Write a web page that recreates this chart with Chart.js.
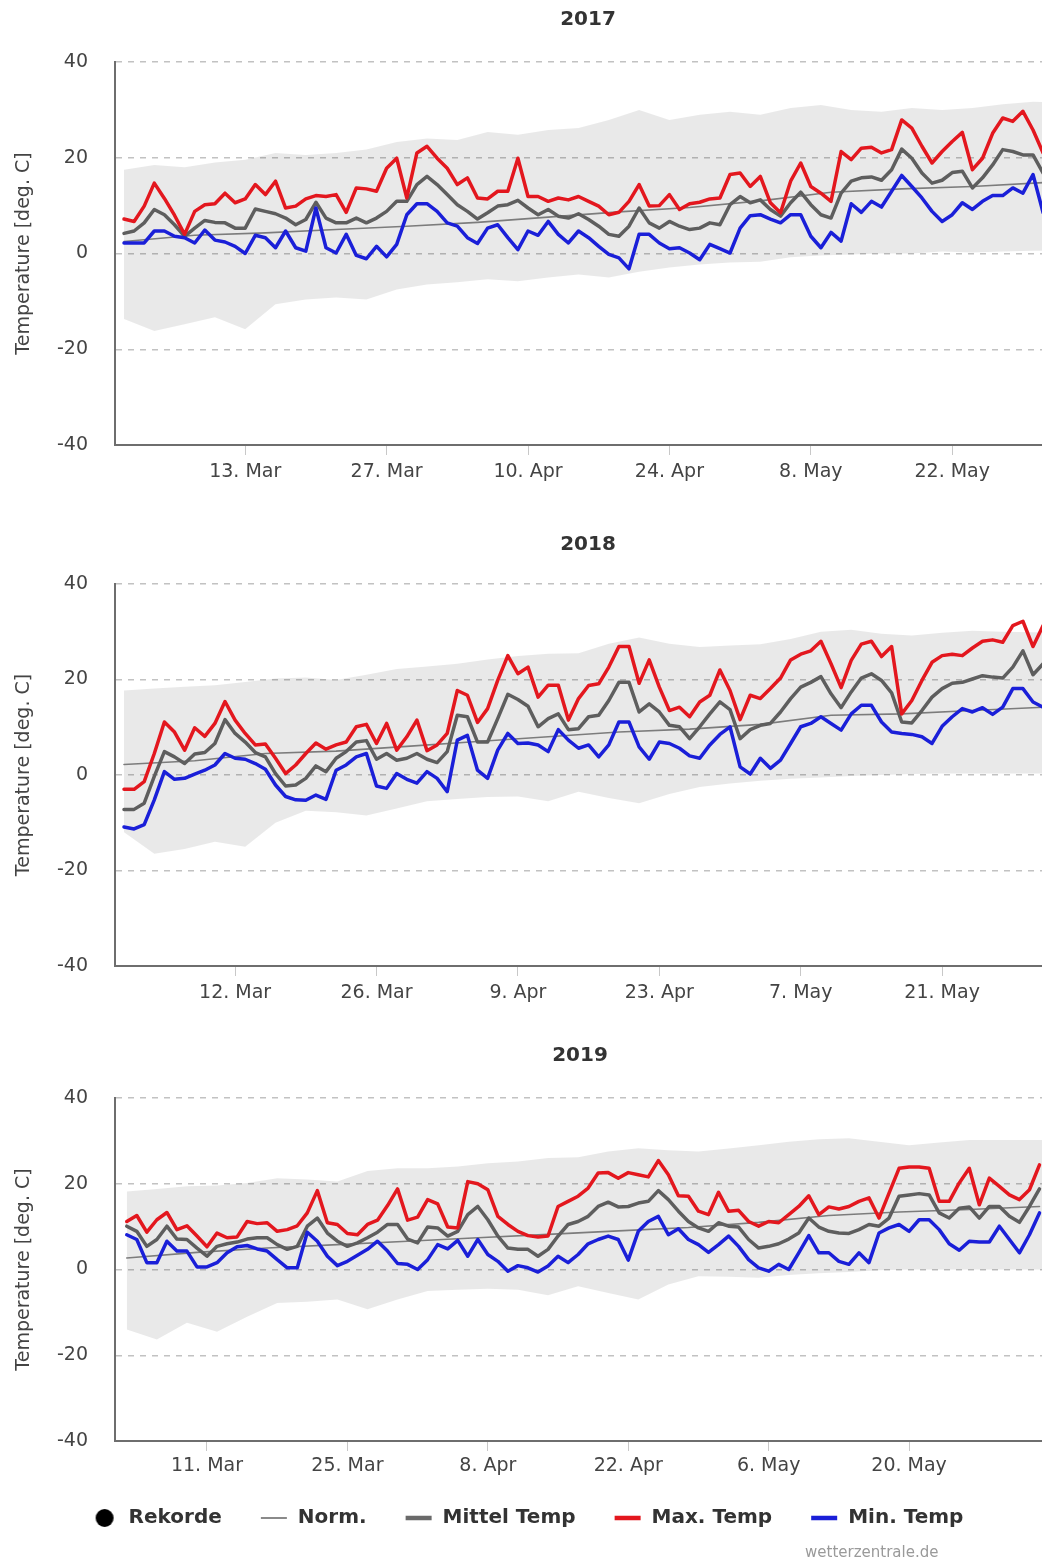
<!DOCTYPE html>
<html>
<head>
<meta charset="utf-8">
<script src="https://cdn.jsdelivr.net/npm/chart.js@4.4.1/dist/chart.umd.min.js"></script>
<style>
html, body { margin: 0; padding: 0; background: #fff; }
body { width: 1042px; height: 1562px; overflow: hidden; position: relative; }
canvas { position: absolute; left: 0; display: block; }
#credit { position: absolute; left: 805px; top: 1543px; font: 15px 'DejaVu Sans', sans-serif; color: #9a9a9a; line-height: 18px; }
</style>
</head>
<body>
<canvas id="c2017" width="1062" height="490" style="top:0px"></canvas>
<canvas id="c2018" width="1062" height="489" style="top:522px"></canvas>
<canvas id="c2019" width="1062" height="526" style="top:1036px"></canvas>
<div id="credit">wetterzentrale.de</div>
<script>
const FONT = "'DejaVu Sans', sans-serif";
const ROT = '#e3171e';
const BLAU = '#1a1fd8';
const GRAU = '#5e5e5e';
const NORMGRAU = '#7c7c7c';

// Tag 0 = 1. März
const yTicks = [-40, -20, 0, 20, 40];

// 2017
const start2017 = 0;
const max2017 = [7.2,6.7,9.9,14.7,11.5,8,4,8.8,10.2,10.4, 12.6,10.6,11.4,14.4,12.3,15.1,9.5,9.9,11.4,12.1,
  11.9,12.3,8.6,13.7,13.5,13,17.8,19.9,11.6,21, 22.4,19.9,17.8,14.4,15.8,11.6,11.4,13,13,19.9,
  11.9,11.9,10.9,11.6,11.2,11.9,10.9,9.9,8.1,8.6, 10.9,14.4,9.9,10,12.3,9.2,10.4,10.7,11.4,11.6,
  16.5,16.8,14,16.1,10.6,8.5,15.1,18.9,14,12.6, 10.9,21.3,19.6,22,22.2,21,21.7,27.9,26.2,22.4,
  18.9,21.3,23.4,25.3,17.5,19.9,25.1,28.3,27.6,29.7, 25.8,21];
const mittel2017 = [4.2,4.7,6.4,9.2,8.1,6,3.6,5.3,6.9,6.5, 6.4,5.3,5.3,9.3,8.8,8.3,7.4,6,7.1,10.7,
  7.4,6.4,6.4,7.4,6.4,7.4,8.8,10.9,10.9,14.4, 16.1,14.4,12.3,10.2,8.8,7.2,8.5,9.9,10.2,11.1,
  9.5,8.1,9.2,7.8,7.4,8.3,7.1,5.7,4,3.6, 5.7,9.5,6.4,5.3,6.7,5.7,5,5.3,6.4,6,
  10.2,11.9,10.6,11.2,9.2,7.8,10.6,12.8,10.2,8.1, 7.4,12.6,15.1,15.8,16,15.3,17.5,21.8,19.9,16.8,
  14.7,15.3,16.9,17.2,13.7,15.8,18.5,21.7,21.3,20.6, 20.6,16.8];
const min2017 = [2.2,2.2,2.2,4.7,4.7,3.6,3.3,2.2,4.9,2.8, 2.4,1.5,0,3.8,3.3,1.2,4.7,1.2,0.5,9.5,
  1.2,0.1,4,-0.4,-1.1,1.5,-0.7,1.9,8.1,10.4, 10.4,8.8,6.4,5.7,3.3,2.1,5.3,6,3.3,0.8,
  4.7,3.8,6.7,4,2.2,4.7,3.3,1.5,-0.2,-0.9, -3.2,4,4,2.2,1,1.2,0.1,-1.3,1.9,1,
  0.1,5.3,7.9,8.1,7.2,6.4,8.1,8.1,3.6,1.2, 4.4,2.6,10.4,8.6,10.9,9.7,13,16.3,14,11.6,
  8.8,6.7,8.1,10.6,9.2,10.9,12.1,12.1,13.7,12.6, 16.5,8.5];
const normTage2017 = [0,7,14,21,28,35,42,49,56,63,70,77,84,91];
const norm2017 = [2.5,3.8,4.3,5,5.7,6.5,7.6,8.7,9.6,11,12.8,13.5,14,14.8];
const bandTage2017 = [0,3,6,9,12,15,18,21,24,27,30,33,36,39,42,45,48,51,54,57,60,63,66,69,72,75,78,81,84,87,90,93];
const rekordMax2017 = [17.5,18.5,18,19,19.6,21,20.6,21,21.7,23.3,24,23.7,25.4,24.8,25.8,26.2,27.9,30,27.9,29,29.6,29,30.4,31,30,29.6,30.4,30,30.4,31.2,31.7,31.5];
const rekordMin2017 = [-13.7,-16.2,-14.8,-13.3,-15.8,-10.6,-9.6,-9.2,-9.6,-7.5,-6.5,-6,-5.4,-5.8,-5,-4.4,-5,-3.8,-2.9,-2.3,-1.9,-1.7,-0.8,-0.4,-0.2,0,0,0.4,0.2,0.4,0.6,0.6];
const tickTage2017 = [12,26,40,54,68,82];
const tickLabels2017 = ['13. Mar','27. Mar','10. Apr','24. Apr','8. May','22. May'];

// 2018
const start2018 = 0;
const max2018 = [-3,-3,-1.4,4.5,11.1,9,5.2,9.9,8.1,10.8, 15.4,11.5,8.7,6.3,6.5,3.5,0.3,2.1,4.5,6.7,
  5.4,6.3,6.9,10.1,10.6,6.6,10.8,5.2,8,11.5, 5.1,6.3,8.7,17.7,16.7,11,13.9,19.8,25,21.2,
  22.6,16.3,18.8,18.8,11.5,16,18.75,19.1,22.6,26.9, 26.9,19.2,24.1,18.4,13.5,14.2,12.2,15.3,16.7,22,
  17.7,11.6,16.7,16,18.1,20.3,24.1,25.3,26,28, 23.3,18.3,24,27.4,28,24.8,26.9,12.8,15.6,19.8,
  23.6,25,25.3,25,26.6,28,28.3,27.8,31.3,32.2, 26.9,31.3];
const mittel2018 = [-7.2,-7.2,-5.9,-0.3,4.9,3.8,2.4,4.4,4.7,6.6, 11.6,8.7,6.9,4.7,3.8,0.3,-2.3,-2.1,-0.7,1.9,
  0.7,3.5,4.9,6.9,7.2,3.3,4.5,3.1,3.5,4.5, 3.3,2.6,4.9,12.5,12.2,6.9,6.9,11.8,16.9,15.8,
  14.4,10.1,11.8,12.8,9.5,9.7,12.2,12.5,15.6,19.4, 19.4,13.2,14.9,13.2,10.4,10.1,7.6,10.1,12.8,15.3,
  13.7,7.6,9.5,10.4,10.8,13.2,16,18.4,19.4,20.6, 17,14.1,17.4,20.3,21.2,19.8,17.2,11.1,10.9,13.5,
  16.3,18.1,19.2,19.4,20.1,20.8,20.5,20.3,22.6,26, 21,23.3];
const min2018 = [-10.9,-11.3,-10.4,-5.2,0.7,-0.9,-0.7,0.2,1,2.1, 4.5,3.5,3.3,2.4,1.2,-2.1,-4.5,-5.2,-5.3,-4.2,
  -5.1,1,2.1,3.8,4.5,-2.3,-2.8,0.3,-0.9,-1.7, 0.7,-0.7,-3.5,7.3,8.3,1,-0.7,5.2,8.7,6.6,
  6.7,6.3,4.9,9.5,7.3,5.6,6.3,3.8,6.3,11.1, 11.1,5.9,3.3,6.9,6.6,5.6,4,3.5,6.3,8.5,
  10.1,1.7,0.2,3.5,1.4,3.1,6.6,10.1,10.8,12.2, 10.8,9.4,12.8,14.6,14.6,11.1,9,8.7,8.5,8,
  6.6,10.2,12.2,13.9,13.2,14.1,12.7,14.2,18.1,18.1, 15.3,14.2];
const normTage2018 = [0,7,14,21,28,35,42,49,56,63,70,77,84,91];
const norm2018 = [2.2,3,4.5,5,6,7,8,9,9.6,10.6,12.5,12.8,13.5,14.2];
const bandTage2018 = [0,3,6,9,12,15,18,21,24,27,30,33,36,39,42,45,48,51,54,57,60,63,66,69,72,75,78,81,84,87,90,93];
const rekordMax2018 = [17.7,18.1,18.5,18.8,19.5,20.2,20.4,19.9,21,22.2,22.7,23.3,24.2,24.9,25.4,25.5,27.5,28.8,27.5,26.8,27.1,27.4,28.5,30,30.4,29.6,29.2,29.8,30.2,30,29.9,29.9];
const rekordMin2018 = [-12,-16.5,-15.5,-14,-15,-10,-7.5,-7.8,-8.5,-7,-5.5,-5,-4.6,-4.5,-5.5,-3.5,-4.8,-5.9,-4,-2.5,-1.8,-1.2,-0.8,-0.5,-0.2,0,0.2,0.3,0.3,0.3,0.3,0.3];
const tickTage2018 = [11,25,39,53,67,81];
const tickLabels2018 = ['12. Mar','26. Mar','9. Apr','23. Apr','7. May','21. May'];

// 2019
const start2019 = 2;
const max2019 = [11.2,12.6,8.7,11.6,13.3,9.3,10.2,7.8,5.3,8.5, 7.4,7.6,11.2,10.7,10.9,8.9,9.3,10.2,13.2,18.4,
  10.9,10.5,8.4,8.1,10.5,11.5,14.9,18.8,11.5,12.2, 16.3,15.3,9.9,9.7,20.5,20,18.6,12.4,10.5,8.9,
  7.9,7.6,7.8,14.7,15.9,17.1,19,22.5,22.6,21.3, 22.6,22.1,21.6,25.4,22.1,17.2,17.1,13.6,12.8,18,
  13.6,13.8,11.2,10.1,11.2,10.9,12.8,14.7,17.2,12.8, 14.6,14.1,14.7,15.9,16.7,12,17.8,23.6,23.9,23.9,
  23.6,15.9,15.9,20.2,23.6,15.1,21.3,19.4,17.4,16.3, 18.6,24.4];
const mittel2019 = [10.1,8.9,5.4,7,10.1,7.1,7,5,3.1,5.4, 6,6.4,7.1,7.4,7.4,5.8,4.7,5.4,10.1,12,
  8.5,6.6,5.4,6.2,7.4,8.7,10.5,10.5,7.1,6.2, 9.9,9.7,7.8,8.9,12.8,14.7,11.6,7.8,5,4.7,
  4.7,3.1,4.7,7.8,10.5,11.2,12.4,14.7,15.7,14.6, 14.7,15.5,15.9,18.4,16.3,13.6,11.2,9.7,8.9,10.9,
  10.1,9.9,7,5,5.4,6,7.1,8.5,12,9.9, 8.9,8.5,8.4,9.3,10.5,10.1,12,17.1,17.4,17.7,
  17.4,13.2,12,14.3,14.6,12,14.7,14.7,12.4,11, 14.7,18.8];
const min2019 = [8.1,7,1.6,1.6,6.6,4.3,4.3,0.6,0.6,1.6, 3.9,5.3,5.6,4.8,4.3,2.3,0.4,0.4,8.7,6.6,
  3.1,0.9,1.9,3.3,4.7,6.6,4.3,1.4,1.2,0, 2.3,5.8,4.8,6.8,3.1,7,3.5,1.9,-0.4,0.9,
  0.4,-0.6,0.8,3.1,1.6,3.5,6,7,7.8,7, 2.2,8.9,11.2,12.4,8.1,9.5,7,5.8,4,5.8,
  7.8,5.4,2.3,0.4,-0.4,1.2,0,3.9,7.9,3.9, 3.9,1.9,1.2,3.9,1.6,8.5,9.7,10.5,8.9,11.6,
  11.6,9.3,6,4.5,6.6,6.4,6.4,10.1,7,3.9, 8.1,13.2];
const normTage2019 = [2,9,16,23,30,37,44,51,58,65,72,79,86,93];
const norm2019 = [2.7,4,5,5.8,6.6,7.4,8.2,9,9.8,11,12.6,13.4,14,14.7];
const bandTage2019 = [2,5,8,11,14,17,20,23,26,29,32,35,38,41,44,47,50,53,56,59,62,65,68,71,74,77,80,83,86,89,92,94];
const rekordMax2019 = [18.2,18.8,19.4,19.6,20.2,21.3,21,20.5,23,23.6,23.6,24,24.8,25.2,26,26.2,27.5,28.3,27.8,27.5,28.2,29,29.8,30.4,30.6,29.8,29,29.6,30.2,30.2,30.2,30.2];
const rekordMin2019 = [-14,-16.3,-12.4,-14.5,-11,-7.8,-7.5,-7,-9.3,-7,-5,-4.7,-4.5,-4.7,-6,-3.9,-5.5,-7,-3.5,-1.6,-1.7,-1.9,-1.3,-0.9,-0.6,-0.2,0,0,0,0,0,0];
const tickTage2019 = [10,24,38,52,66,80];
const tickLabels2019 = ['11. Mar','25. Mar','8. Apr','22. Apr','6. May','20. May'];

function punkte(start, werte) {
  return werte.map((y, i) => ({ x: start + i, y: y }));
}

function punkteXY(tage, werte) {
  return werte.map((y, i) => ({ x: tage[i], y: y }));
}

// Legendensymbol: 37px breit, Symbol rechtsbündig (links etwas Abstand zum vorigen Eintrag)
function marker(farbe, dicke, kreis) {
  const c = document.createElement('canvas');
  c.width = 37;
  c.height = 20;
  const g = c.getContext('2d');
  g.fillStyle = farbe;
  if (kreis) {
    g.beginPath();
    g.arc(23, 10, 9, 0, Math.PI * 2);
    g.fill();
  } else {
    g.fillRect(10, 10 - dicke / 2, 26, dicke);
  }
  return c;
}

const legendeEintraege = [
  { text: 'Rekorde', pointStyle: marker('#000', 0, true) },
  { text: 'Norm.', pointStyle: marker('#8a8a8a', 2, false) },
  { text: 'Mittel Temp', pointStyle: marker('#6a6a6a', 4.5, false) },
  { text: 'Max. Temp', pointStyle: marker(ROT, 4.5, false) },
  { text: 'Min. Temp', pointStyle: marker(BLAU, 4.5, false) }
].map(e => Object.assign(e, { fillStyle: '#000', strokeStyle: '#000', lineWidth: 0, hidden: false, fontColor: '#333' }));

function erstelleDiagramm(id, d) {
  const ctx = document.getElementById(id).getContext('2d');
  return new Chart(ctx, {
    type: 'line',
    data: {
      datasets: [
        { label: 'Min. Temp', data: punkte(d.start, d.min), borderColor: BLAU, borderWidth: 3.5, order: 1 },
        { label: 'Max. Temp', data: punkte(d.start, d.max), borderColor: ROT, borderWidth: 3.5, order: 2 },
        { label: 'Mittel Temp', data: punkte(d.start, d.mittel), borderColor: GRAU, borderWidth: 3.5, order: 3 },
        { label: 'Norm.', data: punkteXY(d.normTage, d.norm), borderColor: NORMGRAU, borderWidth: 1.6, order: 4 },
        { label: 'Rekorde min', data: punkteXY(d.bandTage, d.rekMin), borderWidth: 0, borderColor: 'rgba(0,0,0,0)', order: 6 },
        { label: 'Rekorde', data: punkteXY(d.bandTage, d.rekMax), borderWidth: 0, borderColor: 'rgba(0,0,0,0)',
          backgroundColor: 'rgba(0,0,0,0.085)', fill: '-1', order: 5 }
      ]
    },
    options: {
      responsive: false,
      animation: false,
      events: [],
      layout: { padding: { left: 0, top: 0, right: d.rechts, bottom: d.unten } },
      elements: {
        point: { radius: 0 },
        line: { tension: 0, borderJoinStyle: 'round', borderCapStyle: 'round' }
      },
      scales: {
        x: {
          type: 'linear',
          min: d.xMin,
          max: d.xMax,
          afterBuildTicks: ax => { ax.ticks = d.tickTage.map(v => ({ value: v })); },
          afterFit: ax => { ax.height = d.xHoehe; },
          ticks: {
            autoSkip: false, maxRotation: 0, padding: d.tickAbstand, color: '#444',
            font: { family: FONT, size: 19 },
            callback: v => d.tickLabels[d.tickTage.indexOf(v)]
          },
          grid: { drawOnChartArea: false, drawTicks: true, tickLength: 10, color: '#c8c8c8', lineWidth: 1 },
          border: { display: true, color: '#6e6e6e', width: 2 }
        },
        y: {
          min: -40,
          max: 40,
          afterBuildTicks: ax => { ax.ticks = yTicks.map(v => ({ value: v })); },
          afterFit: ax => { ax.width = 115; },
          ticks: { padding: 27, color: '#444', font: { family: FONT, size: 19 } },
          grid: {
            drawTicks: false, lineWidth: 1.5,
            color: c => (c.tick && c.tick.value === -40) ? 'rgba(0,0,0,0)' : '#c2c2c2'
          },
          border: { display: true, color: '#6e6e6e', width: 2, dash: [6, 6] },
          title: {
            display: true, text: 'Temperature [deg. C]', color: '#444',
            font: { family: FONT, size: 19 }, padding: { top: 13, bottom: 0 }
          }
        }
      },
      plugins: {
        tooltip: { enabled: false },
        title: {
          display: true, text: d.titel, color: '#333', fullSize: false,
          font: { family: FONT, size: 20, weight: 'bold' },
          padding: { top: d.titelOben, bottom: d.titelUnten }
        },
        legend: d.legende ? {
          display: true, position: 'bottom', fullSize: true,
          labels: {
            usePointStyle: true, pointStyleWidth: 37, boxHeight: 19, padding: 29, color: '#333',
            font: { family: FONT, size: 20, weight: 'bold' },
            generateLabels: () => legendeEintraege
          }
        } : { display: false }
      }
    }
  });
}

erstelleDiagramm('c2017', {
  titel: '2017', start: start2017, max: max2017, mittel: mittel2017, min: min2017,
  normTage: normTage2017, norm: norm2017, bandTage: bandTage2017, rekMax: rekordMax2017, rekMin: rekordMin2017,
  tickTage: tickTage2017, tickLabels: tickLabels2017,
  xMin: -0.891, xMax: 92.77, rechts: 1, unten: 0, xHoehe: 45, tickAbstand: 6,
  titelOben: 8, titelUnten: 30, legende: false
});

erstelleDiagramm('c2018', {
  titel: '2018', start: start2018, max: max2018, mittel: mittel2018, min: min2018,
  normTage: normTage2018, norm: norm2018, bandTage: bandTage2018, rekMax: rekordMax2018, rekMin: rekordMin2018,
  tickTage: tickTage2018, tickLabels: tickLabels2018,
  xMin: -0.891, xMax: 92.77, rechts: 1, unten: 0, xHoehe: 45, tickAbstand: 6,
  titelOben: 11, titelUnten: 27, legende: false
});

erstelleDiagramm('c2019', {
  titel: '2019', start: start2019, max: max2019, mittel: mittel2019, min: min2019,
  normTage: normTage2019, norm: norm2019, bandTage: bandTage2019, rekMax: rekordMax2019, rekMin: rekordMin2019,
  tickTage: tickTage2019, tickLabels: tickLabels2019,
  xMin: 0.8275, xMax: 93.55, rechts: 17, unten: 24, xHoehe: 38, tickAbstand: 4,
  titelOben: 8, titelUnten: 30, legende: true
});
</script>
</body>
</html>
